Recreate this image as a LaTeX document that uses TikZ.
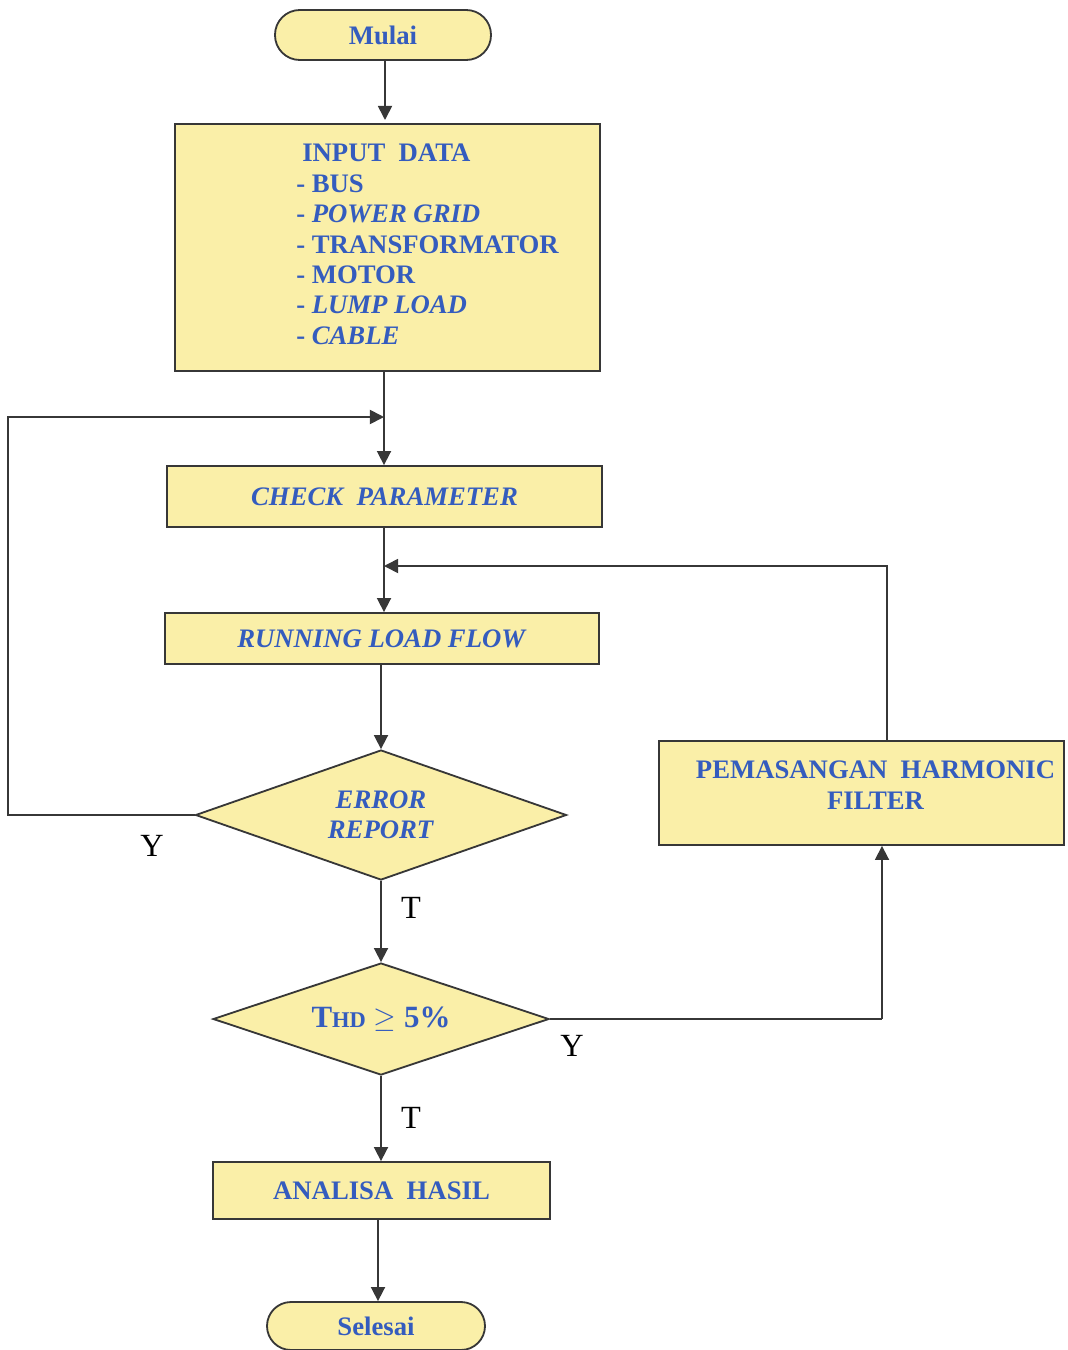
\documentclass[tikz,border=0pt]{standalone}
\usepackage{fontspec}
\setmainfont{Liberation Serif}
\usepackage{tikz}
\usetikzlibrary{positioning,arrows.meta,shapes.geometric,calc}
\definecolor{colorbox}  {RGB}{250,239,168}
\definecolor{colortext} {RGB}{ 52, 92,190}
\definecolor{colorline} {RGB}{ 55, 55, 55}

\begin{document}
\begin{tikzpicture}[
    base/.style={draw=colorline,line width=1.3pt,fill=colorbox,text=colortext,
                 font={\fontsize{19}{21.6}\selectfont\bfseries},inner sep=4pt,align=center},
    block/.style={base,rectangle},
    decision/.style={base,diamond,inner sep=0pt},
    txt/.style={text=colortext,font={\fontsize{19}{21.6}\selectfont\bfseries},inner sep=0pt},
    arr/.style={draw=colorline,line width=1.2pt,-{Triangle[length=10pt,width=10pt]}},
    lin/.style={draw=colorline,line width=1.2pt},
    lbl/.style={font={\fontsize{23}{26}\selectfont},text=black,inner sep=0pt},
]
    \useasboundingbox (0,0) rectangle (26.675,-33.75);

    \node[base,rounded corners=0.62cm,minimum width=5.4cm,minimum height=1.25cm] (start) at (9.575,-0.875) {Mulai};

    \node[block,minimum width=10.625cm,minimum height=6.175cm] (input) at (9.6875,-6.1875) {};
    \node[txt,align=left,anchor=north west] (inputtxt) at (7.4,-3.6)
        {\hspace*{0.15cm}INPUT\ \ DATA\\
         - BUS\\
         - \textit{POWER GRID}\\
         - TRANSFORMATOR\\
         - MOTOR\\
         - \textit{LUMP LOAD}\\
         - \textit{CABLE}};

    \node[block,minimum width=10.875cm,minimum height=1.525cm] (check) at (9.6125,-12.4125) {\textit{CHECK\ \ PARAMETER}};
    \node[block,minimum width=10.85cm,minimum height=1.275cm] (run) at (9.55,-15.9625) {\textit{RUNNING LOAD FLOW}};

    \node[decision,aspect=2.85,minimum width=9.275cm,minimum height=3.25cm] (error) at (9.525,-20.375) {\textit{ERROR}\\\textit{REPORT}};
    \node[decision,aspect=3,minimum width=8.4cm,minimum height=2.8cm,font={\fontsize{22}{24}\selectfont\bfseries}] (thd) at (9.525,-25.475)
        {T{\fontsize{16}{18}\selectfont HD} $\geq$ 5\%};

    \node[block,minimum width=10.125cm,minimum height=2.6cm] (filter) at (21.5375,-19.825) {};
    \node[txt,align=center] (filtertxt) at ([xshift=0.35cm,yshift=0.2cm]filter.center) {PEMASANGAN\ \ HARMONIC\\FILTER};

    \node[block,minimum width=8.425cm,minimum height=1.425cm] (hasil) at (9.5375,-29.7625) {ANALISA\ \ HASIL};
    \node[base,rounded corners=0.6cm,minimum width=5.45cm,minimum height=1.2cm] (finish) at (9.4,-33.15) {Selesai};

    % merge points
    \coordinate (loopin)  at (9.6,-10.425);
    \coordinate (loopl)   at (0.2,-20.375);
    \coordinate (mergein) at (9.6,-14.15);
    \coordinate (filterx) at (22.175,-18.525);
    \coordinate (thdx)    at (22.05,-25.5);

    \draw[arr] (start.south -| 9.625,0) -- (9.625,-3.0);
    \draw[arr] (input.south -| loopin) -- (check.north -| loopin);
    \draw[arr] (error.west) -- (loopl) |- (loopin);
    \draw[arr] (check.south -| mergein) -- (run.north -| mergein);
    \draw[arr] (filter.north -| filterx) |- (mergein);
    \draw[arr] (run.south -| error.north) -- (error.north);
    \draw[arr] (error.south) -- (thd.north);
    \draw[lin] (thd.east) -- (thd.east -| thdx);
    \draw[arr] (thd.east -| thdx) -- (filter.south -| thdx);
    \draw[arr] (thd.south) -- (hasil.north -| thd.south);
    \draw[arr] (hasil.south -| 9.45,0) -- (finish.north -| 9.45,0);

    \node[lbl] (ylbl1) at (3.8,-21.15) {Y};
    \node[lbl] (tlbl1) at (10.275,-22.7) {T};
    \node[lbl] (ylbl2) at (14.3,-26.15) {Y};
    \node[lbl] (tlbl2) at (10.275,-27.95) {T};

\end{tikzpicture}
\end{document}
